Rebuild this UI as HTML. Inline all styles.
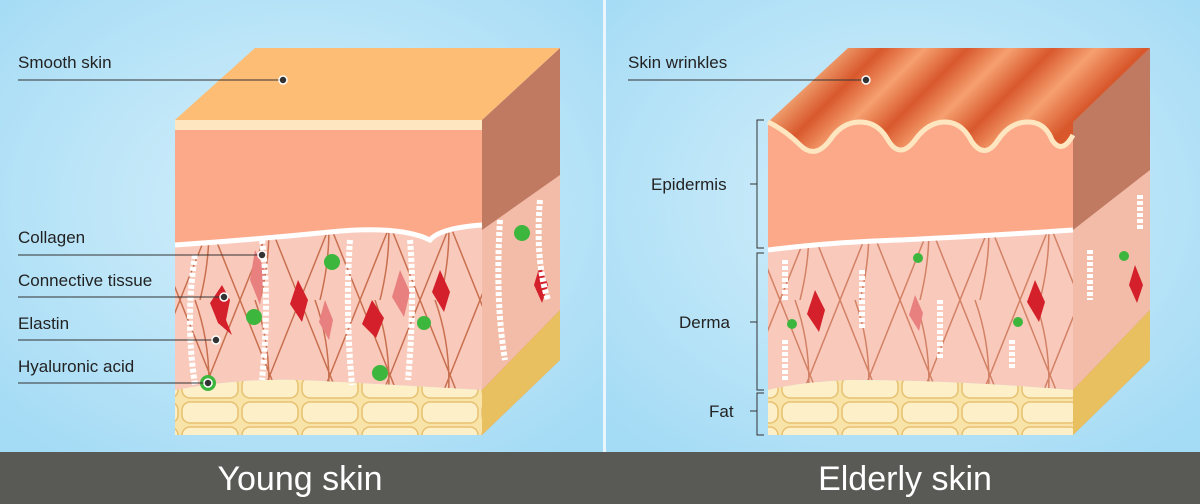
<!DOCTYPE html>
<html><head><meta charset="utf-8"><style>
html,body{margin:0;padding:0;width:1200px;height:504px;overflow:hidden;font-family:"Liberation Sans",sans-serif}
</style></head><body>
<svg width="1200" height="504" viewBox="0 0 1200 504" xmlns="http://www.w3.org/2000/svg">
<defs>
<radialGradient id="bg" cx="0.5" cy="0.45" r="0.7">
<stop offset="0" stop-color="#d6f0fb"/><stop offset="1" stop-color="#a4dbf5"/></radialGradient>
<pattern id="fib" width="60" height="150" patternUnits="userSpaceOnUse">
<path d="M0 0 Q30 75 60 150 M60 0 Q30 75 0 150 M15 0 Q40 70 20 150" stroke="#b8502a" stroke-width="1.5" fill="none" opacity="0.75"/>
</pattern>
<pattern id="fat" width="60" height="25" patternUnits="userSpaceOnUse">
<rect width="60" height="25" fill="#f8e4a8"/><rect x="2" y="2" width="56" height="21" rx="8" fill="#fdf0c8" stroke="#e8c070" stroke-width="1.5"/>
</pattern>
<linearGradient id="wr" gradientUnits="userSpaceOnUse" x1="888" y1="0" x2="1193" y2="0" gradientTransform="skewX(-45)">
<stop offset="0" stop-color="#f0a070"/><stop offset="0.14" stop-color="#d8582c"/><stop offset="0.28" stop-color="#f6a070"/><stop offset="0.42" stop-color="#d8582c"/><stop offset="0.56" stop-color="#f6a070"/><stop offset="0.7" stop-color="#d8582c"/><stop offset="0.84" stop-color="#f6a070"/><stop offset="1" stop-color="#d8582c"/>
</linearGradient>
</defs>
<rect width="603" height="452" fill="url(#bg)"/>
<rect x="606" width="594" height="452" fill="url(#bg)"/>
<rect x="603" width="3" height="452" fill="#eaf6fc"/>
<rect y="452" width="1200" height="52" fill="#595955"/>
<text x="300" y="490" font-size="34" fill="#fff" text-anchor="middle">Young skin</text>
<text x="905" y="490" font-size="34" fill="#fff" text-anchor="middle">Elderly skin</text>

<!-- LEFT BLOCK -->
<g>
<polygon points="482,120 560,48 560,360 482,435" fill="#c07a62"/>
<polygon points="482,230 560,175 560,310 482,390" fill="#f3bca8"/>
<polygon points="482,390 560,310 560,360 482,435" fill="#e9c060"/>
<polygon points="175,120 255,48 560,48 482,120" fill="#fdbd74"/>
<rect x="175" y="120" width="307" height="10" fill="#fde6c0"/>
<path d="M175 130 H482 V225 Q440 228 430 240 Q400 225 330 232 Q250 240 175 245 Z" fill="#fca98a"/>
<path d="M175 245 Q250 240 330 232 Q400 225 430 240 Q440 228 482 225 V390 Q400 385 300 380 Q240 378 175 390 Z" fill="#f9cabb"/>
<path d="M175 245 Q250 240 330 232 Q400 225 430 240 Q440 228 482 225 V390 Q400 385 300 380 Q240 378 175 390 Z" fill="url(#fib)"/>
<path d="M175 245 Q250 240 330 232 Q400 225 430 240 Q440 228 482 225" stroke="#fff" stroke-width="5" fill="none"/>
<path d="M175 390 Q240 378 300 380 Q400 385 482 390 V435 H175 Z" fill="url(#fat)"/>
<g fill="#d4202a"><path d="M222 285 l8 15 -4 20 6 15 -14 -12 -8 -20z"/><path d="M298 280 l10 20 -6 22 -12 -18z"/><path d="M372 300 l12 18 -8 20 -14 -14z"/><path d="M440 270 l10 22 -6 20 -12 -20z"/><path d="M540 265 l8 20 -6 18 -8 -18z"/></g>
<g fill="#e88080"><path d="M255 250 l10 20 -5 35 -10 -25z"/><path d="M325 300 l8 20 -4 20 -10 -18z"/><path d="M400 270 l10 22 -6 25 -12 -20z"/></g>
<g fill="#3db63d"><circle cx="332" cy="262" r="8"/><circle cx="254" cy="317" r="8"/><circle cx="424" cy="323" r="7"/><circle cx="380" cy="373" r="8"/><circle cx="522" cy="233" r="8"/><circle cx="208" cy="383" r="8"/></g>
<g stroke="#fff" stroke-width="6" stroke-dasharray="4 2" fill="none"><path d="M195 255 Q185 320 195 385"/><path d="M262 240 Q270 300 262 380"/><path d="M350 240 Q345 310 352 385"/><path d="M410 240 Q415 300 408 380"/><path d="M500 220 Q495 300 505 360"/><path d="M540 200 Q535 260 548 300"/></g>
</g>

<!-- RIGHT BLOCK -->
<g>
<polygon points="1073,120 1150,48 1150,360 1073,435" fill="#c07a62"/>
<polygon points="1073,230 1150,170 1150,310 1073,390" fill="#f3bca8"/>
<polygon points="1073,390 1150,310 1150,360 1073,435" fill="#e9c060"/>
<path d="M768 122 L848 48 L1150 48 L1073 122 L1073 165 L768 165 Z" fill="url(#wr)"/>
<path d="M768 122 Q785 130 800 145 Q815 160 830 140 Q842 122 860 122 Q878 122 888 140 Q900 160 915 140 Q928 122 945 122 Q962 122 972 142 Q985 160 998 140 Q1010 122 1028 122 Q1045 122 1052 140 Q1062 155 1073 135 V230 Q1000 235 900 240 Q830 242 768 250 Z" fill="#fca98a"/>
<path d="M768 122 Q785 130 800 145 Q815 160 830 140 Q842 122 860 122 Q878 122 888 140 Q900 160 915 140 Q928 122 945 122 Q962 122 972 142 Q985 160 998 140 Q1010 122 1028 122 Q1045 122 1052 140 Q1062 155 1073 135" stroke="#fde6c0" stroke-width="5" fill="none"/>
<path d="M768 250 Q830 242 900 240 Q1000 235 1073 230 V390 Q950 380 850 380 Q800 382 768 390 Z" fill="#f9cabb"/>
<path d="M768 250 Q830 242 900 240 Q1000 235 1073 230 V390 Q950 380 850 380 Q800 382 768 390 Z" fill="url(#fib)" opacity="0.8"/>
<path d="M768 250 Q830 242 900 240 Q1000 235 1073 230" stroke="#fff" stroke-width="5" fill="none"/>
<path d="M768 390 Q800 382 850 380 Q950 380 1073 390 V435 H768 Z" fill="url(#fat)"/>
<g fill="#d4202a"><path d="M815 290 l10 20 -6 22 -12 -18z"/><path d="M1035 280 l10 22 -6 20 -12 -20z"/><path d="M1135 265 l8 20 -6 18 -8 -18z"/></g>
<g fill="#e88080"><path d="M915 295 l8 18 -4 18 -10 -16z"/></g>
<g fill="#3db63d"><circle cx="918" cy="258" r="5"/><circle cx="792" cy="324" r="5"/><circle cx="1018" cy="322" r="5"/><circle cx="1124" cy="256" r="5"/></g>
<g stroke="#fff" stroke-width="6" stroke-dasharray="4 2" fill="none"><path d="M785 260 V300"/><path d="M862 270 V330"/><path d="M940 300 V360"/><path d="M1012 340 V370"/><path d="M1090 250 V300"/><path d="M1140 195 V230"/><path d="M785 340 V380"/></g>
</g>

<!-- LABELS -->
<g font-size="17" fill="#222">
<text x="18" y="68">Smooth skin</text>
<text x="18" y="243">Collagen</text>
<text x="18" y="286">Connective tissue</text>
<text x="18" y="329">Elastin</text>
<text x="18" y="372">Hyaluronic acid</text>
<text x="628" y="68">Skin wrinkles</text>
<text x="651" y="190">Epidermis</text>
<text x="679" y="328">Derma</text>
<text x="709" y="417">Fat</text>
</g>
<g stroke="#333" stroke-width="1" fill="none">
<path d="M18 80 H283"/><path d="M18 255 H262"/><path d="M18 297 H224"/><path d="M18 340 H216"/><path d="M18 383 H208"/>
<path d="M628 80 H866"/>
<path d="M764 120 H757 V248 H764 M757 184 H750"/>
<path d="M764 253 H757 V390 H764 M757 322 H750"/>
<path d="M764 393 H757 V435 H764 M757 411 H750"/>
</g>
<g fill="#333" stroke="#fff" stroke-width="1.5"><circle cx="283" cy="80" r="4"/><circle cx="262" cy="255" r="4"/><circle cx="224" cy="297" r="4"/><circle cx="216" cy="340" r="4"/><circle cx="208" cy="383" r="4"/><circle cx="866" cy="80" r="4"/></g>
</svg>
</body></html>
